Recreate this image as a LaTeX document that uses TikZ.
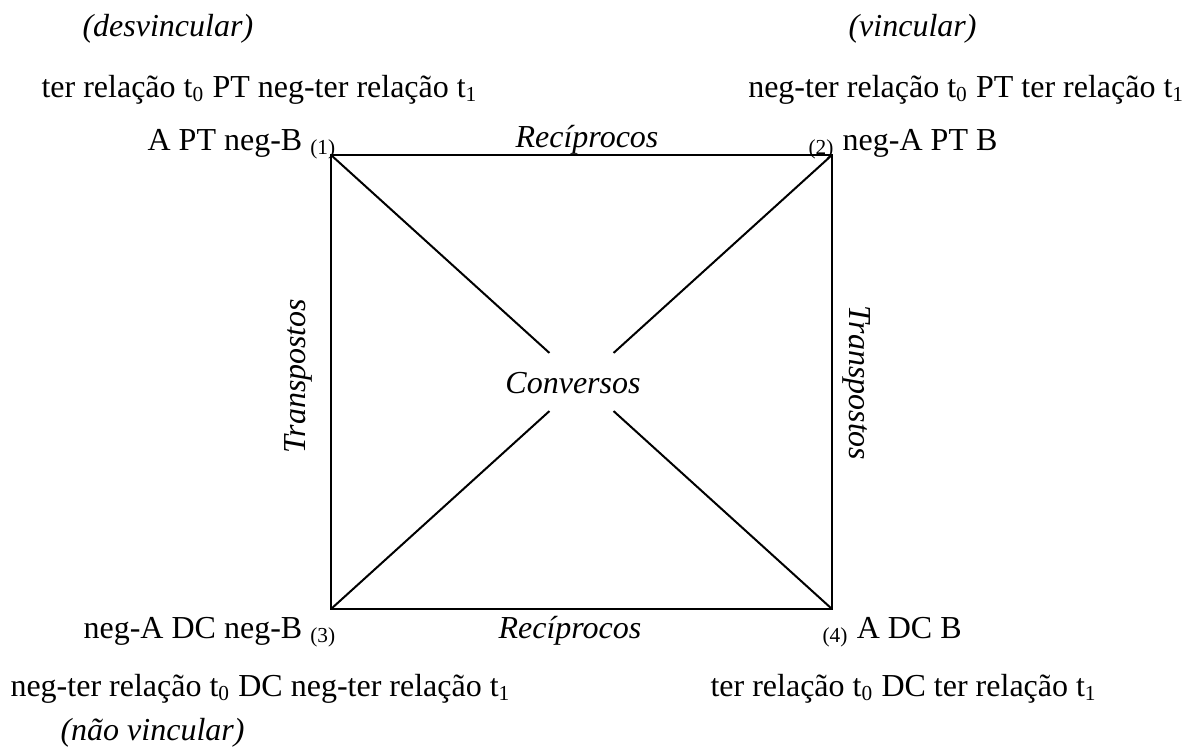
\documentclass[tikz,border=0pt]{standalone}
\usepackage{fontspec}
\setmainfont{Liberation Serif}
\usetikzlibrary{calc}

\begin{document}
\begin{tikzpicture}[
  x=0.375pt, y=-0.375pt,
  every node/.style={font=\fontsize{12}{14}\selectfont, inner sep=0pt},
  LW/.style={anchor=base west},
  LE/.style={anchor=base east},
  REL/.style={font=\fontsize{12}{14}\selectfont\itshape},
  sqline/.style={line width=0.75pt, black},
]
  \useasboundingbox (0,0) rectangle (1200,755);

  % Square corners
  \coordinate (c1) at (331,155);
  \coordinate (c2) at (832,155);
  \coordinate (c3) at (331,609);
  \coordinate (c4) at (832,609);

  % Ends of the diagonals near the centre
  \coordinate (g1) at ($(c1)!0.436!(c4)$);
  \coordinate (g4) at ($(c4)!0.436!(c1)$);
  \coordinate (g2) at ($(c2)!0.436!(c3)$);
  \coordinate (g3) at ($(c3)!0.436!(c2)$);

  % Top labels
  \node[REL, LW] (desv)  at (82,36)   {(desvincular)};
  \node[LW]      (tl)    at (41,97)   {ter relação t\textsubscript{0} PT neg-ter relação t\textsubscript{1}};
  \node[LE]      (p1)    at (337,150) {A PT neg-B \textsubscript{(1)}};
  \node[REL, anchor=base] (rtop) at (587,147) {Recíprocos};
  \node[LW]      (p2)    at (808,150) {\textsubscript{(2)} neg-A PT B};
  \node[REL, LW] (vinc)  at (848,36)  {(vincular)};
  \node[LE]      (tr)    at (1185,97) {neg-ter relação t\textsubscript{0} PT ter relação t\textsubscript{1}};

  % Bottom labels
  \node[LE]      (p3)    at (337,638) {neg-A DC neg-B \textsubscript{(3)}};
  \node[REL, anchor=base] (rbot) at (570,638) {Recíprocos};
  \node[LW]      (p4)    at (822,638) {\textsubscript{(4)} A DC B};
  \node[LW]      (bl)    at (10,696)  {neg-ter relação t\textsubscript{0} DC neg-ter relação t\textsubscript{1}};
  \node[LW]      (br)    at (710,696) {ter relação t\textsubscript{0} DC ter relação t\textsubscript{1}};
  \node[REL, LW] (nvinc) at (60,740)  {(não vincular)};

  % Side and centre labels
  \node[REL, rotate=90]  (tleft)  at (298,376) {Transpostos};
  \node[REL, rotate=-90] (tright) at (857,383) {Transpostos};
  \node[REL]             (conv)   at (573,383) {Conversos};

  % Square and diagonals
  \draw[sqline] (c1) -- (c2) -- (c4) -- (c3) -- cycle;
  \draw[sqline] (c1) -- (g1);
  \draw[sqline] (c4) -- (g4);
  \draw[sqline] (c2) -- (g2);
  \draw[sqline] (c3) -- (g3);
\end{tikzpicture}
\end{document}
